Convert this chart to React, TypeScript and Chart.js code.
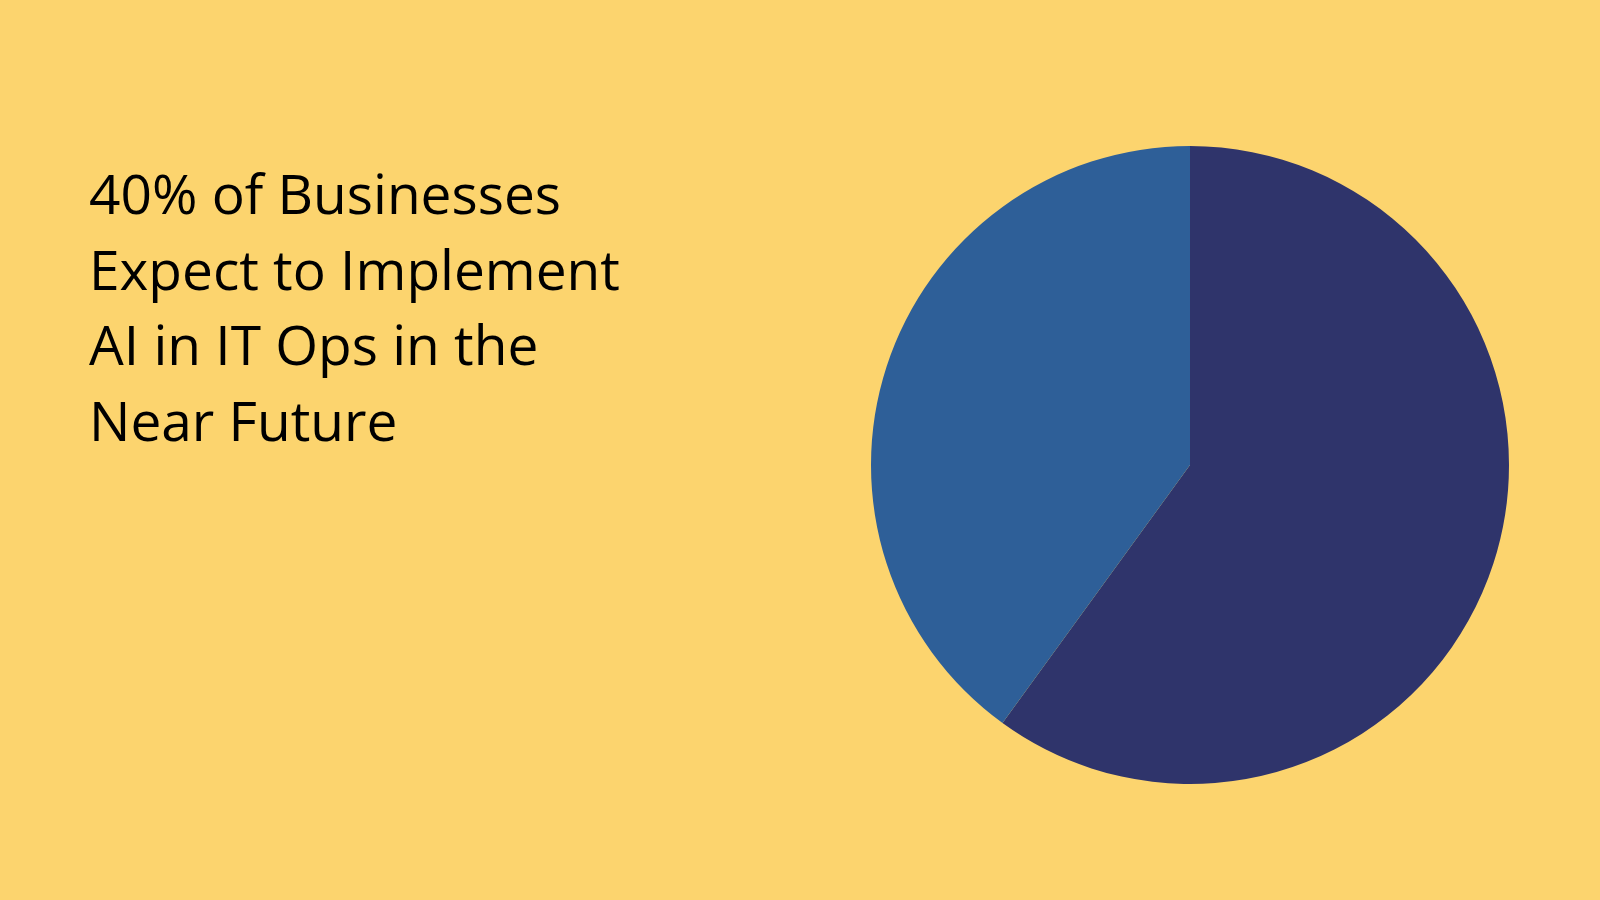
import React, { useEffect, useRef } from "react";
import { Chart, registerables } from "chart.js";

Chart.register(...registerables);

const categories = ["Do not expect to implement", "Expect to implement AI in IT Ops"];
const values = [60, 40];
const colors = ["#2F346B", "#2E5F98"];
const titleLines = ["40% of Businesses", "Expect to Implement", "AI in IT Ops in the", "Near Future"];

export default function App() {
  const ref = useRef<HTMLCanvasElement | null>(null);

  useEffect(() => {
    document.body.style.margin = "0";
    const chart = new Chart(ref.current as HTMLCanvasElement, {
      type: "pie",
      data: {
        labels: categories,
        datasets: [
          {
            data: values,
            backgroundColor: colors,
            borderWidth: 0,
          },
        ],
      },
      options: {
        animation: false,
        responsive: false,
        maintainAspectRatio: false,
        layout: { padding: 0 },
        plugins: {
          legend: { display: false },
          tooltip: { enabled: false },
        },
      },
    });
    return () => chart.destroy();
  }, []);

  return (
    <div
      style={{
        position: "fixed",
        left: 0,
        top: 0,
        width: 1600,
        height: 900,
        background: "#FCD46E",
        overflow: "hidden",
      }}
    >
      <div
        style={{
          position: "absolute",
          left: 89,
          top: 155,
          fontFamily: "'Open Sans', sans-serif",
          fontSize: 55,
          lineHeight: "75.5px",
          color: "#000",
          whiteSpace: "nowrap",
        }}
      >
        {titleLines.map((l, i) => (
          <div key={i}>{l}</div>
        ))}
      </div>
      <canvas
        ref={ref}
        width={638}
        height={638}
        style={{ position: "absolute", left: 871, top: 146, width: 638, height: 638 }}
      />
    </div>
  );
}
